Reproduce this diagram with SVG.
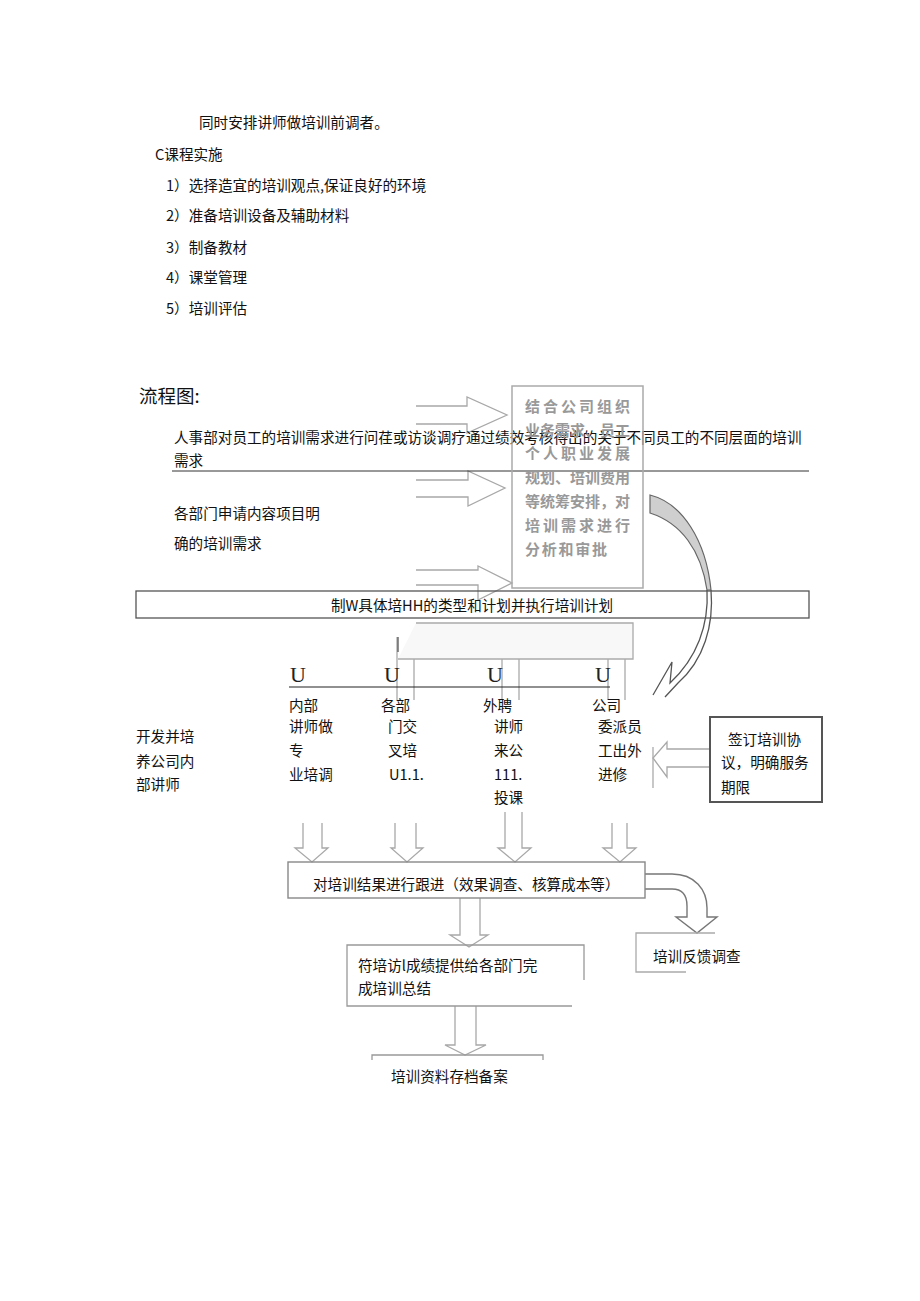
<svg xmlns="http://www.w3.org/2000/svg" width="920" height="1301" viewBox="0 0 920 1301">
<style>
.t{font-family:"Noto Sans CJK SC","Liberation Sans",sans-serif;font-size:14.6px;fill:#111}
.g{font-family:"Noto Sans CJK SC",sans-serif;font-size:15px;font-weight:700;fill:#999}
.u{font-family:"Liberation Serif",serif;font-size:22px;fill:#222}
.ar{fill:none;stroke:#a8a8a8;stroke-width:1.3}
.ln{fill:none;stroke:#aaa;stroke-width:1.3}
</style>
<rect width="920" height="1301" fill="#fff"/>
<g id="intro">
<text class="t" x="199" y="128">同时安排讲师做培训前调者。</text>
<text class="t" x="155" y="160">C课程实施</text>
<text class="t" x="166" y="191">1）选择造宜的培训观点,保证良好的环境</text>
<text class="t" x="166" y="221">2）准备培训设备及辅助材料</text>
<text class="t" x="166" y="253">3）制备教材</text>
<text class="t" x="166" y="283">4）课堂管理</text>
<text class="t" x="166" y="314">5）培训评估</text>
<text class="t" x="139" y="403" style="font-size:18.5px">流程图:</text>
</g>
<g id="connectors">
<path class="ar" d="M416 406 H467 V397 L507 415 L467 433 V424 H416"/>
<path class="ar" d="M416 480 H468 V471 L505 488 L468 506 V497 H416"/>
<path class="ar" d="M416 570 H478 V566 L512 583 L478 600 V585 H416"/>
<path d="M650 495 C682 503 706 540 711 590 L707 590 C701 550 681 523 650 513 Z" fill="#cfcfcf" stroke="#666" stroke-width="1.2"/>
<path d="M711 590 C714 625 704 660 678 683 L665 697" fill="none" stroke="#555" stroke-width="1.3"/>
<path d="M707 590 C709 625 697 658 670 683 L672 662 L653 695" fill="none" stroke="#555" stroke-width="1.3"/>
<path class="ln" d="M397 637 V700 M414 659 V700 M502 659 V700 M519 659 V700 M608 659 V700 M625 659 V700"/>
<path d="M398 637 V652" stroke="#555" stroke-width="1.3"/>
<path class="ar" d="M303 823 V848 H295 L312 862 L328 848 H322 V823"/>
<path class="ar" d="M395 823 V848 H391 L407 862 L423 848 H416 V823"/>
<path class="ar" d="M505 812 V848 H498 L515 862 L531 848 H522 V812"/>
<path class="ar" d="M612 823 V848 H603 L620 862 L636 848 H627 V823"/>
<path class="ar" d="M710 749 H667 V742 L653 758 L667 777 V767 H710"/>
<path class="ln" d="M653 747 V788"/>
<path d="M645 874 H672 C695 874 707 890 707 908 V917 H717 L697 933 L676 917 H687 V906 C687 895 682 889 672 889 H645" fill="#fff" stroke="#777" stroke-width="1.4"/>
<path class="ar" d="M460 898 V935 H450 L469 947 L488 935 H480 V898"/>
<path class="ar" d="M455 1006 V1045 H445 L465 1055 L486 1045 H476 V1006"/>
</g>
<g id="n-hr">
<text class="t" x="174" y="443">人事部对员工的培训需求进行问荏或访谈调疗通过绩效考核得出的关于不同员工的不同层面的培训</text>
<text class="t" x="174" y="466">需求</text>
<path d="M172 471 H809" stroke="#333" stroke-width="1"/>
</g>
<g id="n-dept">
<text class="t" x="174" y="519">各部门申请内容项目明</text>
<text class="t" x="174" y="549">确的培训需求</text>
</g>
<g id="n-approve">
<rect x="512" y="386" width="131" height="202" fill="none" stroke="#aaa" stroke-width="1.5"/>
<text class="g" x="525" y="412" textLength="105" lengthAdjust="spacing">结合公司组织</text>
<text class="g" x="525" y="436" textLength="105" lengthAdjust="spacing">业务需求、员工</text>
<text class="g" x="525" y="459" textLength="105" lengthAdjust="spacing">个人职业发展</text>
<text class="g" x="525" y="483" textLength="105" lengthAdjust="spacing">规划、培训费用</text>
<text class="g" x="525" y="507" textLength="105" lengthAdjust="spacing">等统筹安排，对</text>
<text class="g" x="525" y="531" textLength="105" lengthAdjust="spacing">培训需求进行</text>
<text class="g" x="525" y="555" textLength="82" lengthAdjust="spacing">分析和审批</text>
</g>
<g id="n-plan">
<rect x="136" y="591" width="673" height="27" fill="none" stroke="#555" stroke-width="1.3"/>
<text class="t" x="472" y="611" text-anchor="middle">制W具体培HH的类型和计划并执行培训计划</text>
</g>
<g id="n-frame">
<path d="M416 623 H633 V659 H398" fill="#f8f8f8" stroke="#aaa" stroke-width="1.3"/>
</g>
<g id="n-types">
<text class="u" x="290" y="682">U</text>
<text class="u" x="384" y="682">U</text>
<text class="u" x="487" y="682">U</text>
<text class="u" x="595" y="682">U</text>
<path d="M289 687 H610" stroke="#222" stroke-width="1.2"/>
<text class="t" x="289" y="711">内部</text>
<text class="t" x="289" y="732">讲师做</text>
<text class="t" x="289" y="756">专</text>
<text class="t" x="289" y="780">业培调</text>
<text class="t" x="381" y="711">各部</text>
<text class="t" x="388" y="732">门交</text>
<text class="t" x="388" y="756">叉培</text>
<text class="t" x="389" y="780">U1.1.</text>
<text class="t" x="483" y="711">外聘</text>
<text class="t" x="494" y="732">讲师</text>
<text class="t" x="494" y="756">来公</text>
<text class="t" x="494" y="780">111.</text>
<text class="t" x="494" y="803">投课</text>
<text class="t" x="592" y="711">公司</text>
<text class="t" x="598" y="732">委派员</text>
<text class="t" x="598" y="756">工出外</text>
<text class="t" x="598" y="780">进修</text>
</g>
<g id="n-develop">
<text class="t" x="136" y="742">开发并培</text>
<text class="t" x="136" y="767">养公司内</text>
<text class="t" x="136" y="790">部讲师</text>
</g>
<g id="n-agreement">
<rect x="710" y="717" width="112" height="85" fill="none" stroke="#555" stroke-width="2"/>
<text class="t" x="728" y="745">签订培训协</text>
<text class="t" x="721" y="768">议，明确服务</text>
<text class="t" x="721" y="793">期限</text>
</g>
<g id="n-follow">
<rect x="288" y="862" width="357" height="36" fill="none" stroke="#888" stroke-width="1.4"/>
<text class="t" x="313" y="890">对培训结果进行跟进（效果调查、核算成本等）</text>
</g>
<g id="n-feedback">
<path d="M715 933 H636 V972 H686" fill="none" stroke="#aaa" stroke-width="1.3"/>
<text class="t" x="653" y="962">培训反馈调查</text>
</g>
<g id="n-summary">
<path d="M572 1006 H347 V945 H584 V980" fill="none" stroke="#999" stroke-width="1.3"/>
<text class="t" x="358" y="971">符培访l成绩提供给各部门完</text>
<text class="t" x="358" y="994">成培训总结</text>
</g>
<g id="n-archive">
<path d="M372 1060 V1055 H543 V1060" fill="none" stroke="#999" stroke-width="1.3"/>
<text class="t" x="391" y="1082">培训资料存档备案</text>
</g>
</svg>
